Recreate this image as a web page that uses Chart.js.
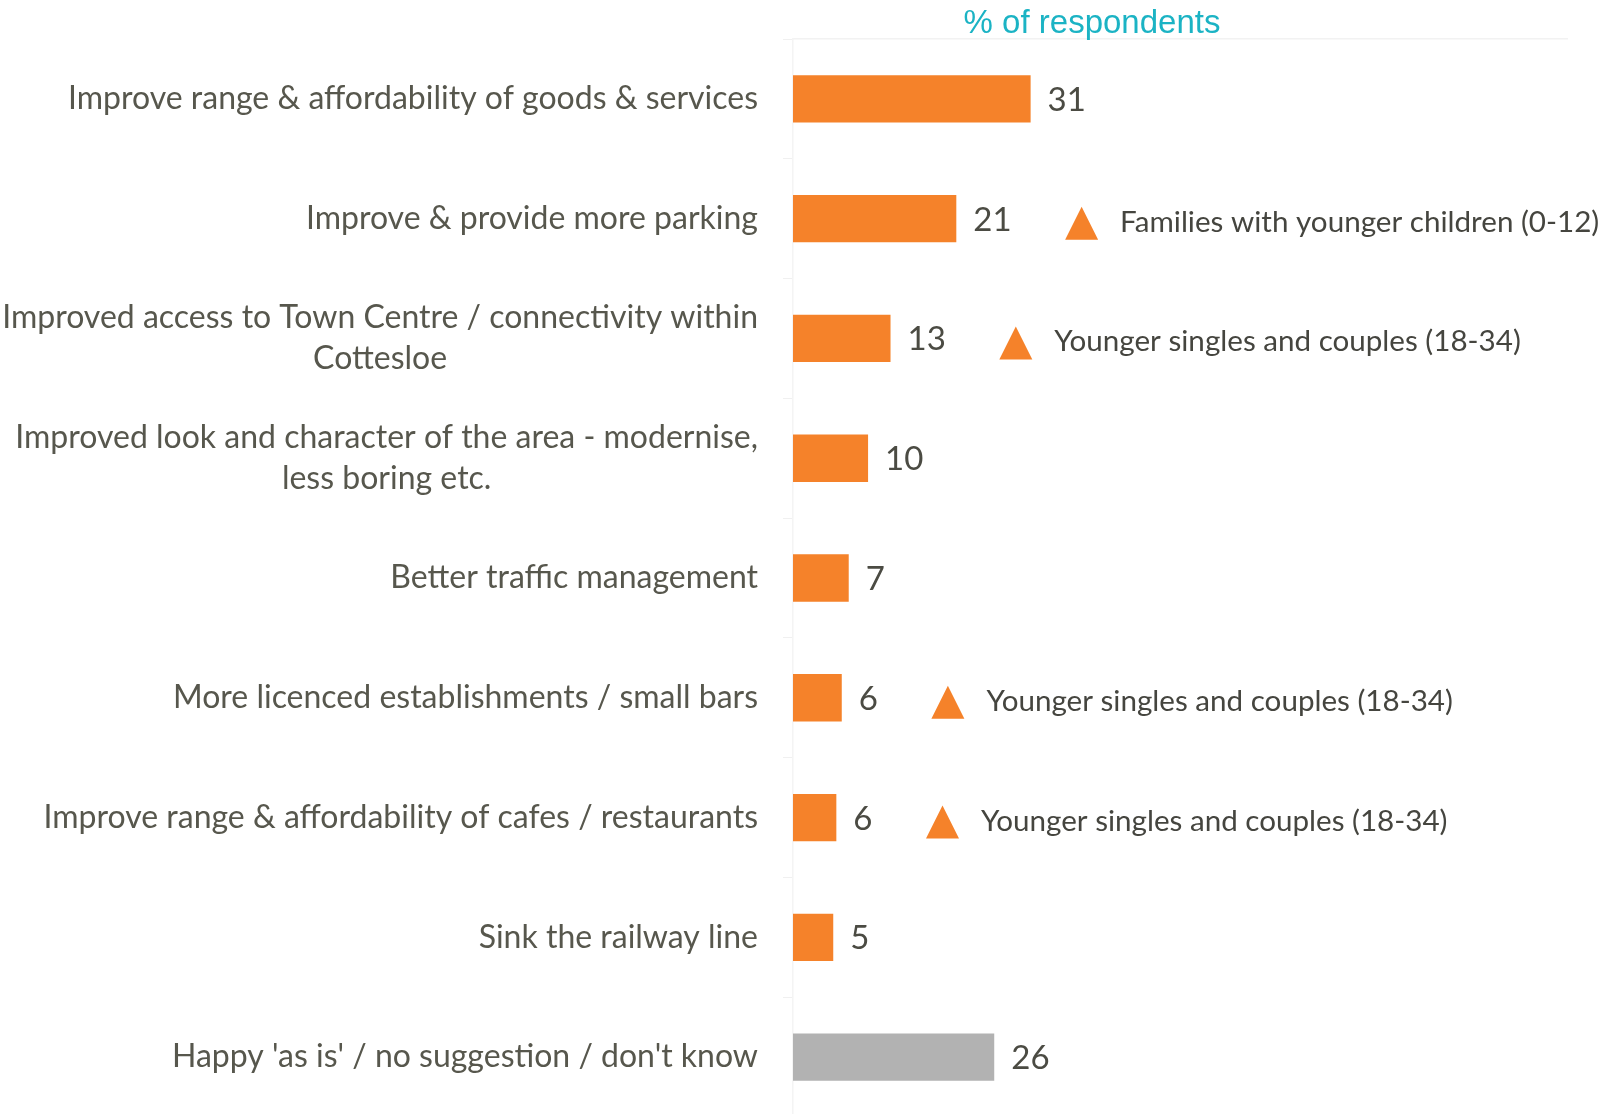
<!DOCTYPE html>
<html>
<head>
<meta charset="utf-8">
<script src="https://cdn.jsdelivr.net/npm/chart.js@4.4.1/dist/chart.umd.min.js"></script>
<style>
   html, body { margin: 0; padding: 0; background: #fff; overflow: hidden; }
   #wrap { width: 1606px; height: 1117px; }
</style>
</head>
<body>
<div id="wrap"><canvas id="mycanvas"></canvas></div>
<script>
var categories = [
   "Improve range & affordability of goods & services",
   "Improve & provide more parking",
   ["Improved access to Town Centre / connectivity within", "Cottesloe"],
   ["Improved look and character of the area - modernise,", "less boring etc."],
   "Better traffic management",
   "More licenced establishments / small bars",
   "Improve range & affordability of cafes / restaurants",
   "Sink the railway line",
   "Happy 'as is' / no suggestion / don't know"
];
var respondents = [30.7, 21.1, 12.6, 9.7, 7.2, 6.3, 5.6, 5.2, 26.0];
var higherAmong = [
   "",
   "Families with younger children (0-12)",
   "Younger singles and couples (18-34)",
   "",
   "",
   "Younger singles and couples (18-34)",
   "Younger singles and couples (18-34)",
   "",
   ""
];
var axisTitle = "% of respondents";

var orange = '#f5822a';
var grey = '#b2b2b2';
var catSize = 32;
var catLine = 41;

var labelsPlugin = {
   id: 'barLabels',
   afterDatasetsDraw: function(chart){
      var ctx = chart.ctx;
      var meta = chart.getDatasetMeta(0);
      var yScale = chart.scales.y;
      ctx.save();

      // wrapped category labels: block right aligned, lines centred on each other
      ctx.font = catSize + 'px Lato';
      ctx.fillStyle = '#57574d';
      ctx.textAlign = 'center';
      ctx.textBaseline = 'middle';
      for (var k = 0; k < categories.length; k++) {
         if (!Array.isArray(categories[k])) continue;
         var lines = categories[k];
         var widest = 0;
         lines.forEach(function(l){ widest = Math.max(widest, ctx.measureText(l).width); });
         var cx = yScale.right - 10 - 25 - widest / 2;
         var cy = yScale.getPixelForTick(k);
         for (var j = 0; j < lines.length; j++) {
            ctx.fillText(lines[j], cx, cy + (j - (lines.length - 1) / 2) * catLine);
         }
      }

      for (var i = 0; i < meta.data.length; i++) {
         var bar = meta.data[i];
         var txt = String(Math.round(respondents[i]));
         ctx.font = '33px Lato';
         ctx.fillStyle = '#4b4b43';
         ctx.textAlign = 'left';
         ctx.textBaseline = 'alphabetic';
         var lx = bar.x + 17;
         ctx.fillText(txt, lx, bar.y + 12);
         if (higherAmong[i]) {
            var tx = lx + ctx.measureText(txt).width + 70;
            ctx.fillStyle = orange;
            ctx.beginPath();
            ctx.moveTo(tx, bar.y - 12);
            ctx.lineTo(tx + 16.5, bar.y + 21);
            ctx.lineTo(tx - 16.5, bar.y + 21);
            ctx.closePath();
            ctx.fill();
            ctx.font = '29.6px Lato';
            ctx.fillStyle = '#45453f';
            ctx.fillText(higherAmong[i], tx + 16.5 + 22, bar.y + 13);
         }
      }
      ctx.font = '33px "Liberation Sans", Arial';
      ctx.fillStyle = '#1bb3c4';
      ctx.textAlign = 'center';
      ctx.fillText(axisTitle, 1092, 33);
      ctx.restore();
   }
};

var chartdata = {
   labels: categories,
   datasets: [{
      label: axisTitle,
      data: respondents,
      backgroundColor: function(c){ return c.dataIndex === categories.length - 1 ? grey : orange; },
      borderWidth: 0,
      barPercentage: 0.395,
      categoryPercentage: 1
   }]
};

var barGraph = new Chart(document.getElementById('mycanvas'), {
   type: 'bar',
   data: chartdata,
   plugins: [labelsPlugin],
   options: {
      indexAxis: 'y',
      responsive: true,
      maintainAspectRatio: false,
      animation: false,
      layout: { padding: { top: 39, right: 39, left: 0, bottom: 0 } },
      plugins: { legend: { display: false }, tooltip: { enabled: false } },
      scales: {
         x: {
            position: 'top',
            min: 0,
            max: 100,
            ticks: { display: false },
            grid: { display: false, drawTicks: false },
            border: { display: true, color: '#f2f2f2', width: 1.5 },
            afterFit: function(s){ s.height = 0; s.paddingLeft = 0; s.paddingRight = 0; }
         },
         y: {
            ticks: {
               color: '#57574d',
               padding: 25,
               font: { family: 'Lato', size: catSize, lineHeight: catLine / catSize },
               callback: function(value, index){
                  var c = categories[index];
                  return Array.isArray(c) ? '' : c;
               }
            },
            grid: { display: true, drawOnChartArea: false, drawTicks: true, tickLength: 10, color: '#f0f0f0', offset: true },
            border: { display: true, color: '#f4f4f4', width: 1.5 },
            afterFit: function(s){ s.width = 793; s.paddingTop = 0; s.paddingBottom = 0; }
         }
      }
   }
});
</script>
</body>
</html>
